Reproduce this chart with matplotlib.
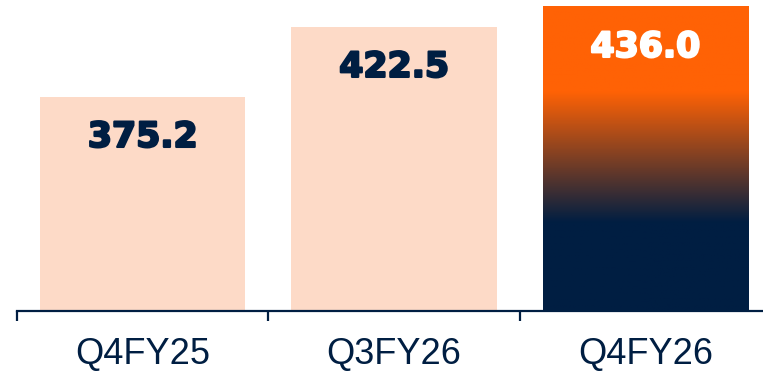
import numpy as np
import matplotlib
matplotlib.use("Agg")
import matplotlib.pyplot as plt
import matplotlib.patheffects as pe
from matplotlib.colors import LinearSegmentedColormap

# data
quarters = ["Q4FY25", "Q3FY26", "Q4FY26"]
values = [375.2, 422.5, 436.0]
labels = ["375.2", "422.5", "436.0"]

NAVY = "#001E42"
PEACH = "#FDDAC7"
ORANGE = "#FF6205"
YMIN, YMAX = 230.6, 440.7

fig = plt.figure(figsize=(7.63, 3.72), dpi=100)
ax = fig.add_axes([17/763, 1 - 311/372, 754/763, 311/372])

x = np.arange(len(quarters))
w = 0.816
bars = ax.bar(x, values, width=w, color=PEACH, zorder=2)

# gradient on the last bar (orange top -> navy bottom)
cmap = LinearSegmentedColormap.from_list(
    "grad", [(0.0, NAVY), (0.29, NAVY), (0.72, ORANGE), (1.0, ORANGE)])
last = bars[-1]
x0 = last.get_x(); x1 = x0 + last.get_width()
grad = np.linspace(0, 1, 256).reshape(-1, 1)
ax.imshow(grad, cmap=cmap, origin="lower", aspect="auto",
          extent=(x0, x1, YMIN, values[-1]), zorder=3)
last.set_facecolor("none")
ax.set_xlim(-0.5, len(quarters) - 0.5)
ax.set_ylim(YMIN, YMAX)

# value labels
for i, (v, t) in enumerate(zip(values, labels)):
    col = "white" if i == len(values) - 1 else NAVY
    ax.text(i, v - 27.0, t, ha="center", va="center", fontsize=25,
            fontweight="bold", color=col, family="DejaVu Sans", zorder=5,
            path_effects=[pe.withStroke(linewidth=1.6, foreground=col)])

# axes styling
for s in ["top", "right", "left"]:
    ax.spines[s].set_visible(False)
ax.spines["bottom"].set_color(NAVY)
ax.spines["bottom"].set_linewidth(1.6)
ax.set_yticks([])
ax.set_xticks(np.arange(len(quarters) + 1) - 0.5)
ax.set_xticklabels([])
ax.tick_params(axis="x", which="major", length=7, width=1.6, color=NAVY, direction="out")
ax.set_xticks(x, minor=True)
ax.set_xticklabels(quarters, minor=True, fontsize=26, color=NAVY, family="Liberation Sans")
ax.tick_params(axis="x", which="minor", length=0, pad=19)

fig.savefig("out.png", dpi=100)
